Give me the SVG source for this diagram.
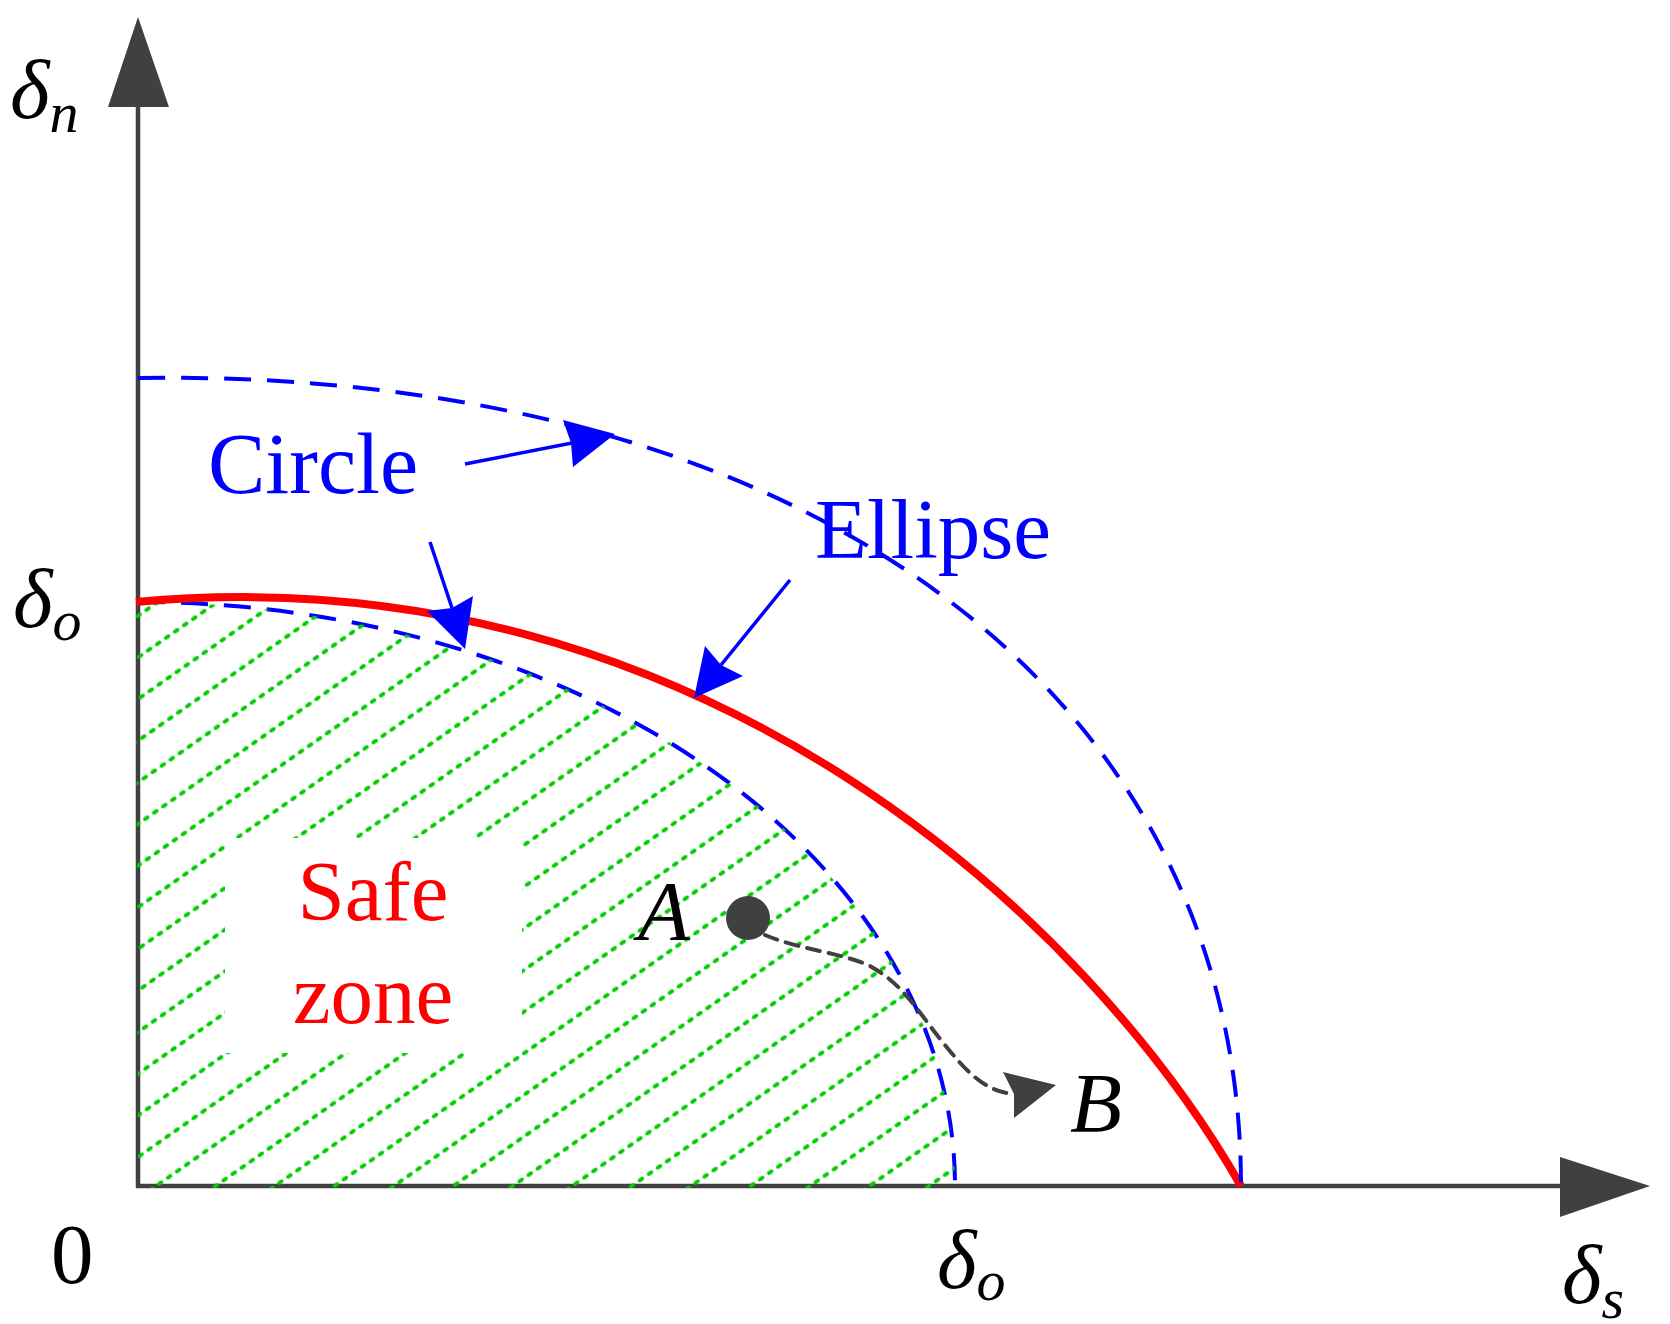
<svg xmlns="http://www.w3.org/2000/svg" width="1670" height="1324" viewBox="0 0 1670 1324">
<style>
.axis{stroke:#404040;stroke-width:4.5;fill:none}
.ahead{fill:#404040}
.blue{stroke:#0000ff;stroke-width:4;fill:none;stroke-dasharray:27 16}
.barrow{stroke:#0000ff;stroke-width:3.5;fill:none}
.bhead{fill:#0000ff}
.lbl{font-family:"Liberation Serif","Times New Roman",serif;font-size:85px}
.it{font-style:italic}
.sub{font-size:58px;font-style:italic}
.blt{fill:#0000ff}
.red{fill:#ff0000}
</style>
<defs>
<pattern id="hatch" patternUnits="userSpaceOnUse" width="11" height="34.1" patternTransform="translate(156,1186) rotate(-35) translate(0,-17)">
<line x1="3.5" y1="17" x2="6.5" y2="17" stroke="#00cc00" stroke-width="4" stroke-linecap="round"/>
</pattern>
</defs>
<rect width="1670" height="1324" fill="#ffffff"/>

<g id="axes">
<line class="axis" x1="138" y1="1188" x2="138" y2="100"/>
<polygon class="ahead" points="138,17 169,107 108,107"/>
<line class="axis" x1="136" y1="1186" x2="1565" y2="1186"/>
<polygon class="ahead" points="1650,1186 1560,1157 1560,1217"/>
</g>

<g id="circle-curve">
<path class="blue" d="M138,602 A817,584 0 0 1 955,1186"/>
</g>

<g id="safe-zone-hatch">
<path d="M138,1188 L136,602 A817,584 0 0 1 955,1188 Z" fill="url(#hatch)"/>
<rect x="225" y="838" width="297" height="215" fill="#ffffff"/>
</g>

<g id="ellipse-curve">
<path d="M136,602 C700,550 1091,923 1241,1186" stroke="#ff0000" stroke-width="8" fill="none"/>
</g>

<g id="outer-curve">
<path class="blue" d="M138,378 C800,368 1241,690 1241,1186"/>
</g>

<g id="connectors">
<line class="barrow" x1="465" y1="464" x2="572" y2="443"/>
<polygon class="bhead" points="615,434 573,467 571,443 563,420"/>
<line class="barrow" x1="430" y1="542" x2="452" y2="608"/>
<polygon class="bhead" points="465,649 427,611 452,608 473,596"/>
<line class="barrow" x1="790" y1="580" x2="721" y2="665"/>
<polygon class="bhead" points="694,698 705,646 721,665 743,676"/>
<path d="M765,935 C800,950 840,952 870,966 C905,985 920,1015 945,1045 C965,1070 985,1092 1014,1094" fill="none" stroke="#404040" stroke-width="4" stroke-dasharray="13 9" stroke-linecap="round"/>
<polygon class="ahead" points="1056,1085 1003,1072 1014,1094 1014,1118"/>
</g>

<g id="pointA">
<circle cx="748" cy="918" r="22" fill="#404040"/>
<text class="lbl it" x="638" y="940">A</text>
</g>
<g id="pointB">
<text class="lbl it" x="1070" y="1132">B</text>
</g>

<g id="labels">
<text class="lbl it" x="10" y="118">δ<tspan class="sub" y="132">n</tspan></text>
<text class="lbl it" x="13" y="627">δ<tspan class="sub" y="640">o</tspan></text>
<text class="lbl it" x="937" y="1288">δ<tspan class="sub" y="1300">o</tspan></text>
<text class="lbl it" x="1562" y="1303">δ<tspan class="sub" y="1318">s</tspan></text>
<text class="lbl" x="51" y="1283">0</text>
<text class="lbl blt" x="208" y="493" style="font-size:86px">Circle</text>
<text class="lbl blt" x="815" y="558">Ellipse</text>
<text class="lbl red" x="373" y="920" text-anchor="middle">Safe</text>
<text class="lbl red" x="373" y="1023" text-anchor="middle">zone</text>
</g>
</svg>
